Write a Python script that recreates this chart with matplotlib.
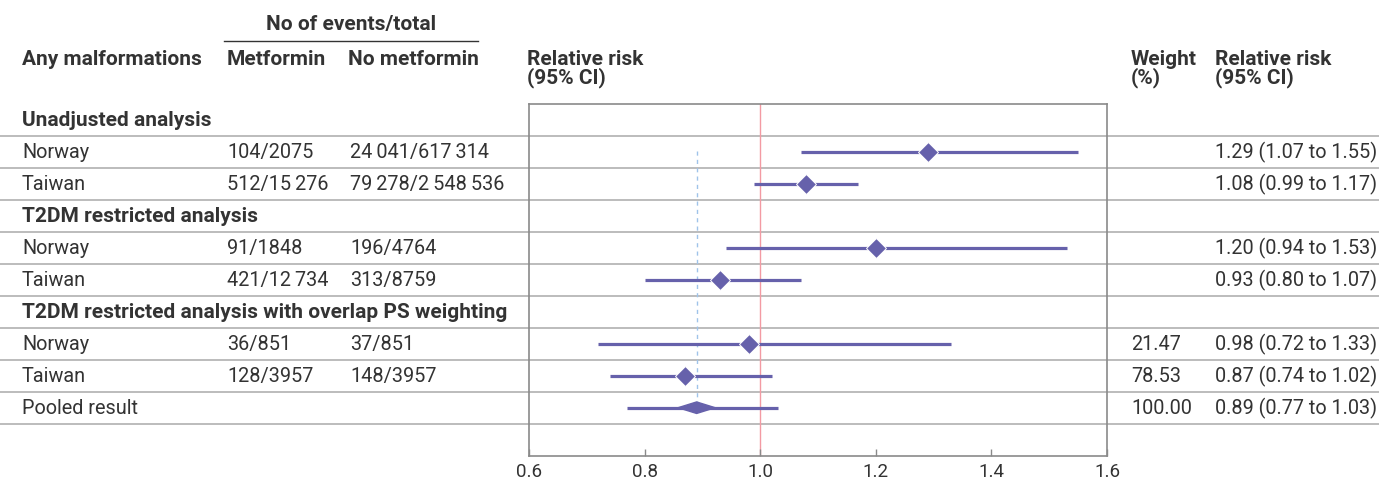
import matplotlib
matplotlib.use('Agg')
import matplotlib.pyplot as plt
import numpy as np
from matplotlib.patches import Polygon

plt.rcParams['font.family'] = ['Roboto', 'DejaVu Sans']

# table rows, top to bottom
labels = ['Unadjusted analysis', 'Norway', 'Taiwan',
          'T2DM restricted analysis', 'Norway', 'Taiwan',
          'T2DM restricted analysis with overlap PS weighting', 'Norway', 'Taiwan',
          'Pooled result']
is_header = [True, False, False, True, False, False, True, False, False, False]
metformin = ['', '104/2075', '512/15\u2009276', '', '91/1848', '421/12\u2009734', '', '36/851', '128/3957', '']
no_metformin = ['', '24\u2009041/617\u2009314', '79\u2009278/2\u2009548\u2009536', '', '196/4764', '313/8759',
                '', '37/851', '148/3957', '']
rr = [np.nan, 1.29, 1.08, np.nan, 1.20, 0.93, np.nan, 0.98, 0.87, 0.89]
lo = [np.nan, 1.07, 0.99, np.nan, 0.94, 0.80, np.nan, 0.72, 0.74, 0.77]
hi = [np.nan, 1.55, 1.17, np.nan, 1.53, 1.07, np.nan, 1.33, 1.02, 1.03]
weight = ['', '', '', '', '', '', '', '21.47', '78.53', '100.00']
pooled_row = 9
xticks = [0.6, 0.8, 1.0, 1.2, 1.4, 1.6]

W, H = 1379, 479
txt = '#333333'
purple = '#6661ab'
grid = '#b0b0b0'
fs = 14.3    # regular text
fsb = 15     # bold text

fig = plt.figure(figsize=(W / 100, H / 100), dpi=100)

# background axes in pixel units for the table part
bg = fig.add_axes([0, 0, 1, 1])
bg.set_xlim(0, W)
bg.set_ylim(H, 0)
bg.axis('off')

row0 = 119.7   # pixel centre of first row
rowh = 32.0


def ypix(i):
    return row0 + rowh * i


def bold(x, y, s, **kw):
    bg.text(x, y, s, va='baseline', fontsize=fsb, fontweight='bold', color=txt, **kw)


# column headers
bold(351, 30, 'No of events/total', ha='center')
bg.plot([224, 478], [40.7, 40.7], color=txt, lw=1)
bold(22, 65, 'Any malformations')
bold(227, 65, 'Metformin')
bold(348, 65, 'No metformin')
bold(527, 65, 'Relative risk')
bold(527, 83, '(95% CI)')
bold(1131, 65, 'Weight')
bold(1131, 83, '(%)')
bold(1215, 65, 'Relative risk')
bold(1215, 83, '(95% CI)')

for i, lab in enumerate(labels):
    yb = ypix(i) + 6.5
    if is_header[i]:
        bold(22, yb, lab)
    else:
        bg.text(22, yb, lab, va='baseline', fontsize=fs, color=txt)
    bg.text(227, yb, metformin[i], va='baseline', fontsize=fs, color=txt)
    bg.text(350, yb, no_metformin[i], va='baseline', fontsize=fs, color=txt)
    bg.text(1131, yb, weight[i], va='baseline', fontsize=fs, color=txt)
    if not np.isnan(rr[i]):
        bg.text(1215, yb, f'{rr[i]:.2f} ({lo[i]:.2f} to {hi[i]:.2f})',
                va='baseline', fontsize=fs, color=txt)
    # separator under each row, full width
    bg.plot([0, W], [ypix(i) + rowh / 2] * 2, color=grid, lw=1.2)

# forest plot axes
top_pix = ypix(-0.5)
bot_pix = ypix(10.5)
x0, x1 = 529, 1107
ax = fig.add_axes([x0 / W, 1 - bot_pix / H, (x1 - x0) / W, (bot_pix - top_pix) / H])
ax.set_facecolor('none')
ax.set_xlim(0.6, 1.6)
ax.set_ylim(10.5, -0.5)

ax.axvline(1.0, color='#f39aa3', lw=1, zorder=1)
ax.vlines(rr[pooled_row], 0.97, pooled_row, colors='#9fc3ea', lw=1, linestyles=(0, (3, 3)), zorder=1)

for i in range(len(labels)):
    if np.isnan(rr[i]):
        continue
    ax.plot([lo[i], hi[i]], [i, i], color=purple, lw=2.3, solid_capstyle='butt', zorder=2)
    if i == pooled_row:
        dx, dy = 0.032, 0.18
        ax.add_patch(Polygon([[rr[i] - dx, i], [rr[i], i - dy], [rr[i] + dx, i], [rr[i], i + dy]],
                             closed=True, color=purple, zorder=3))
    else:
        ax.plot(rr[i], i, marker='D', ms=10.5, color=purple, mec='white', mew=0.7, zorder=3)

ax.set_xticks(xticks)
ax.set_xticklabels([f'{t:.1f}' for t in xticks])
ax.set_yticks([])
ax.tick_params(axis='x', direction='in', length=5, width=1, color='#8a8a8a',
               labelsize=13.5, labelcolor=txt, pad=5)
for s in ax.spines.values():
    s.set_color('#8a8a8a')
    s.set_linewidth(1.2)

fig.savefig('out.png', dpi=100)
